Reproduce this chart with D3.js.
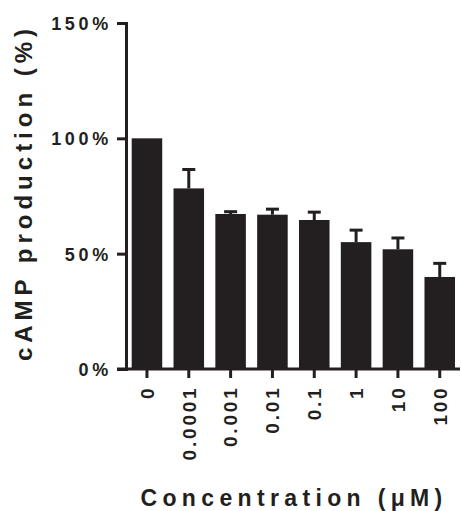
<!DOCTYPE html>
<html>
<head>
<meta charset="utf-8">
<script src="https://cdn.jsdelivr.net/npm/d3@7"></script>
<style>
  html, body { margin: 0; padding: 0; background: #fff; }
  svg { display: block; }
  text { font-family: "Liberation Sans", Arial, sans-serif; font-weight: bold; fill: #231f20; }
</style>
</head>
<body>
<svg id="chart" width="461" height="511"></svg>
<script>
// cAMP production relative to control, by agonist concentration
const concentrations = ["0", "0.0001", "0.001", "0.01", "0.1", "1", "10", "100"];
const meanPct = [100, 78.3, 67.2, 66.9, 64.6, 55.0, 51.9, 39.9];
const semPct = [0, 8.2, 1.0, 2.4, 3.4, 5.2, 4.9, 5.9];
const yTicks = [0, 50, 100, 150];
const yTitle = "cAMP production (%)";
const xTitle = "Concentration (μM)";

const ink = "#231f20";
const svg = d3.select("#chart");

const x = d3.scaleBand()
  .domain(concentrations)
  .range([126, 460.7])
  .paddingInner(0.27)
  .paddingOuter(0.136);

const y = d3.scaleLinear().domain([0, 150]).range([369, 23]);

// bars
svg.append("g").selectAll("rect")
  .data(concentrations)
  .join("rect")
  .attr("x", d => x(d))
  .attr("width", x.bandwidth())
  .attr("y", (d, i) => y(meanPct[i]))
  .attr("height", (d, i) => y(0) - y(meanPct[i]))
  .attr("fill", ink);

// upper error bars (mean + SEM)
const capW = 13;
const err = svg.append("g").attr("stroke", ink).attr("stroke-width", 3);
concentrations.forEach((c, i) => {
  if (!semPct[i]) return;
  const cx = x(c) + x.bandwidth() / 2;
  err.append("line")
    .attr("x1", cx).attr("x2", cx)
    .attr("y1", y(meanPct[i])).attr("y2", y(meanPct[i] + semPct[i]));
  err.append("line")
    .attr("x1", cx - capW / 2).attr("x2", cx + capW / 2)
    .attr("y1", y(meanPct[i] + semPct[i])).attr("y2", y(meanPct[i] + semPct[i]));
});

// y axis
const yAxis = svg.append("g")
  .attr("transform", "translate(126,0)")
  .call(d3.axisLeft(y).tickValues(yTicks).tickSize(9).tickSizeOuter(0).tickFormat(d => d + "%"));
yAxis.select(".domain").attr("stroke", ink).attr("stroke-width", 3).attr("stroke-linecap", "square");
yAxis.selectAll(".tick line").attr("stroke", ink).attr("stroke-width", 3);
yAxis.selectAll(".tick text")
  .attr("x", -14)
  .attr("dy", "0.36em")
  .style("font-size", "18px")
  .style("letter-spacing", "3.7px")
  .attr("fill", ink);

// x axis
const xAxis = svg.append("g")
  .attr("transform", "translate(0,369)")
  .call(d3.axisBottom(x).tickSize(9).tickSizeOuter(0));
xAxis.select(".domain").attr("d", "M117,0H460").attr("stroke", ink).attr("stroke-width", 3);
xAxis.selectAll(".tick line").attr("stroke", ink).attr("stroke-width", 3);
xAxis.selectAll(".tick text")
  .attr("transform", "rotate(-90)")
  .attr("text-anchor", "end")
  .attr("x", -16.5)
  .attr("y", 0)
  .attr("dy", "0.36em")
  .style("font-size", "19px")
  .style("letter-spacing", "2.8px")
  .attr("fill", ink);

// axis titles
svg.append("text")
  .attr("transform", "translate(32,192.5) rotate(-90)")
  .attr("text-anchor", "middle")
  .style("font-size", "24px")
  .style("letter-spacing", "5px")
  .text(yTitle);

svg.append("text")
  .attr("x", 140.5)
  .attr("y", 505.5)
  .style("font-size", "23px")
  .style("letter-spacing", "5.35px")
  .text(xTitle);
</script>
</body>
</html>
